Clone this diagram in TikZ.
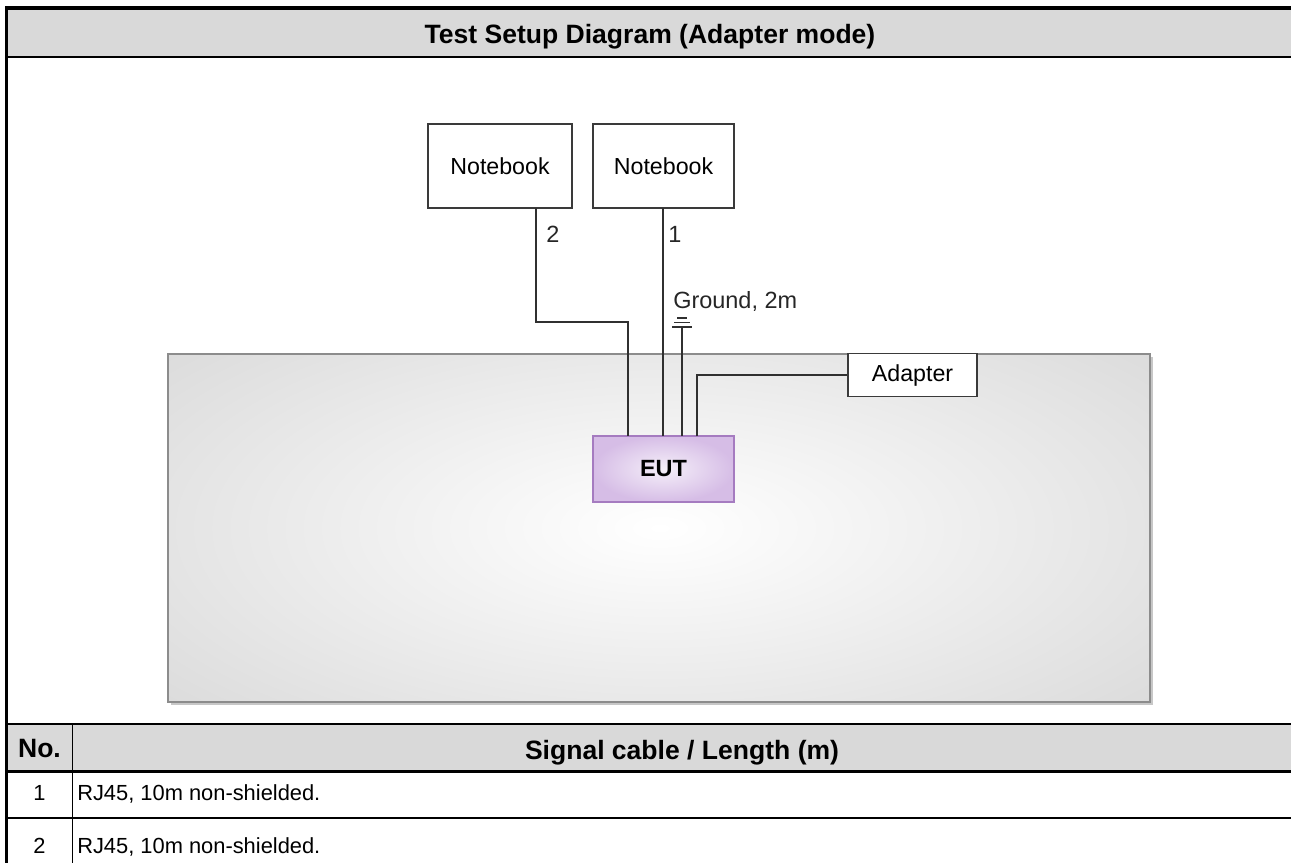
\documentclass[tikz,border=0pt]{standalone}
\usepackage{fontspec}
\setmainfont{Liberation Sans}

\definecolor{hdrgray}{HTML}{D9D9D9}
\definecolor{wire}{HTML}{303030}
\definecolor{boxedge}{HTML}{3A3A3A}
\definecolor{benchgray}{HTML}{DCDCDC}
\definecolor{benchedge}{HTML}{8C8C8C}
\definecolor{eutedge}{HTML}{A57BC0}
\definecolor{eutlight}{HTML}{F5EFF9}
\definecolor{eutdark}{HTML}{D6BDE6}

\tikzset{box_style/.style={draw=boxedge, line width=1.3pt, fill=white, inner sep=0pt, font=\fontsize{17.4}{20}\selectfont}}
\tikzset{eut_style/.style={draw=eutedge, line width=1.4pt, inner color=eutlight, outer color=eutdark, inner sep=0pt, font=\bfseries\fontsize{17.6}{20}\selectfont}}
\tikzset{cable_style/.style={draw=wire, line width=1.3pt}}
\tikzset{label_style/.style={inner sep=0pt, anchor=base west, text=black!85, font=\fontsize{17.6}{20}\selectfont}}
\tikzset{head_style/.style={inner sep=0pt, anchor=base, font=\bfseries\fontsize{19.9}{24}\selectfont}}
\tikzset{cell_style/.style={inner sep=0pt, font=\fontsize{16.4}{20}\selectfont}}

\begin{document}
\begin{tikzpicture}[x=0.75pt, y=-0.75pt]
    \useasboundingbox (0,0) rectangle (1291,863);

    \fill[hdrgray] (7,10) rectangle (1291,57);
    \fill[hdrgray] (7,724) rectangle (1291,771);
    \draw[line width=3pt] (5,8.5) -- (1291,8.5);
    \draw[line width=1.7pt] (7,57) -- (1291,57);
    \draw[line width=1.4pt] (7,724) -- (1291,724);
    \draw[line width=1.6pt] (7,771.5) -- (1291,771.5);
    \draw[line width=1.6pt] (7,818) -- (1291,818);
    \draw[line width=1.2pt] (72.5,724) -- (72.5,863);
    \draw[line width=2.3pt] (6.5,7) -- (6.5,863);

    \fill[black!22] (170.5,356.5) rectangle (1152.5,704.5);
    \begin{scope}
        \clip (168,354) rectangle (1150,702);
        \fill[benchgray] (168,354) rectangle (1150,702);
        \shade[inner color=white, outer color=benchgray] (660,528) ellipse (640 and 270);
    \end{scope}
    \draw[benchedge, line width=1.3pt] (168,354) rectangle (1150,702);

    \node[head_style] (title) at (650,44) {Test Setup Diagram (Adapter mode)};

    \node[box_style, minimum width=108pt, minimum height=63pt] (nb2) at (500,166) {Notebook};
    \node[box_style, minimum width=105.75pt, minimum height=63pt] (nb1) at (663.5,166) {Notebook};
    \node[box_style, minimum width=96.75pt, minimum height=32.25pt] (adapter) at (912.5,375) {Adapter};
    \node[eut_style, minimum width=105.75pt, minimum height=49.5pt] (eut) at (663.5,469) {EUT};

    \coordinate (n2) at (536,208);
    \coordinate (n1) at (663,208);
    \coordinate (e2) at (628,436);
    \coordinate (e1) at (663,436);
    \coordinate (eg) at (682,436);
    \coordinate (ea) at (697,436);
    \coordinate (gnd) at (682,327);

    \draw[cable_style] (n2) -- (536,322) -| (e2);
    \draw[cable_style] (n1) -- (e1);
    \draw[cable_style] (gnd) -- (eg);
    \draw[cable_style] (ea) |- (adapter.west);

    \draw[cable_style, line width=1.1pt] (677,318) -- (687,318);
    \draw[cable_style, line width=1.1pt] (674,322.5) -- (690,322.5);
    \draw[cable_style, line width=1.1pt] (672,327) -- (692,327);

    \node[label_style] (l2) at (546,242) {2};
    \node[label_style] (l1) at (668,242) {1};
    \node[label_style] (gndlabel) at (673,308) {Ground, 2m};

    \node[head_style] (no) at (39.5,757.5) {No.};
    \node[head_style] (sig) at (682,759) {Signal cable / Length (m)};
    \node[cell_style, anchor=base] (r1n) at (39.5,800) {1};
    \node[cell_style, anchor=base west] (r1t) at (77,800) {RJ45, 10m non-shielded.};
    \node[cell_style, anchor=base] (r2n) at (39.5,853) {2};
    \node[cell_style, anchor=base west] (r2t) at (77,853) {RJ45, 10m non-shielded.};

\end{tikzpicture}
\end{document}
